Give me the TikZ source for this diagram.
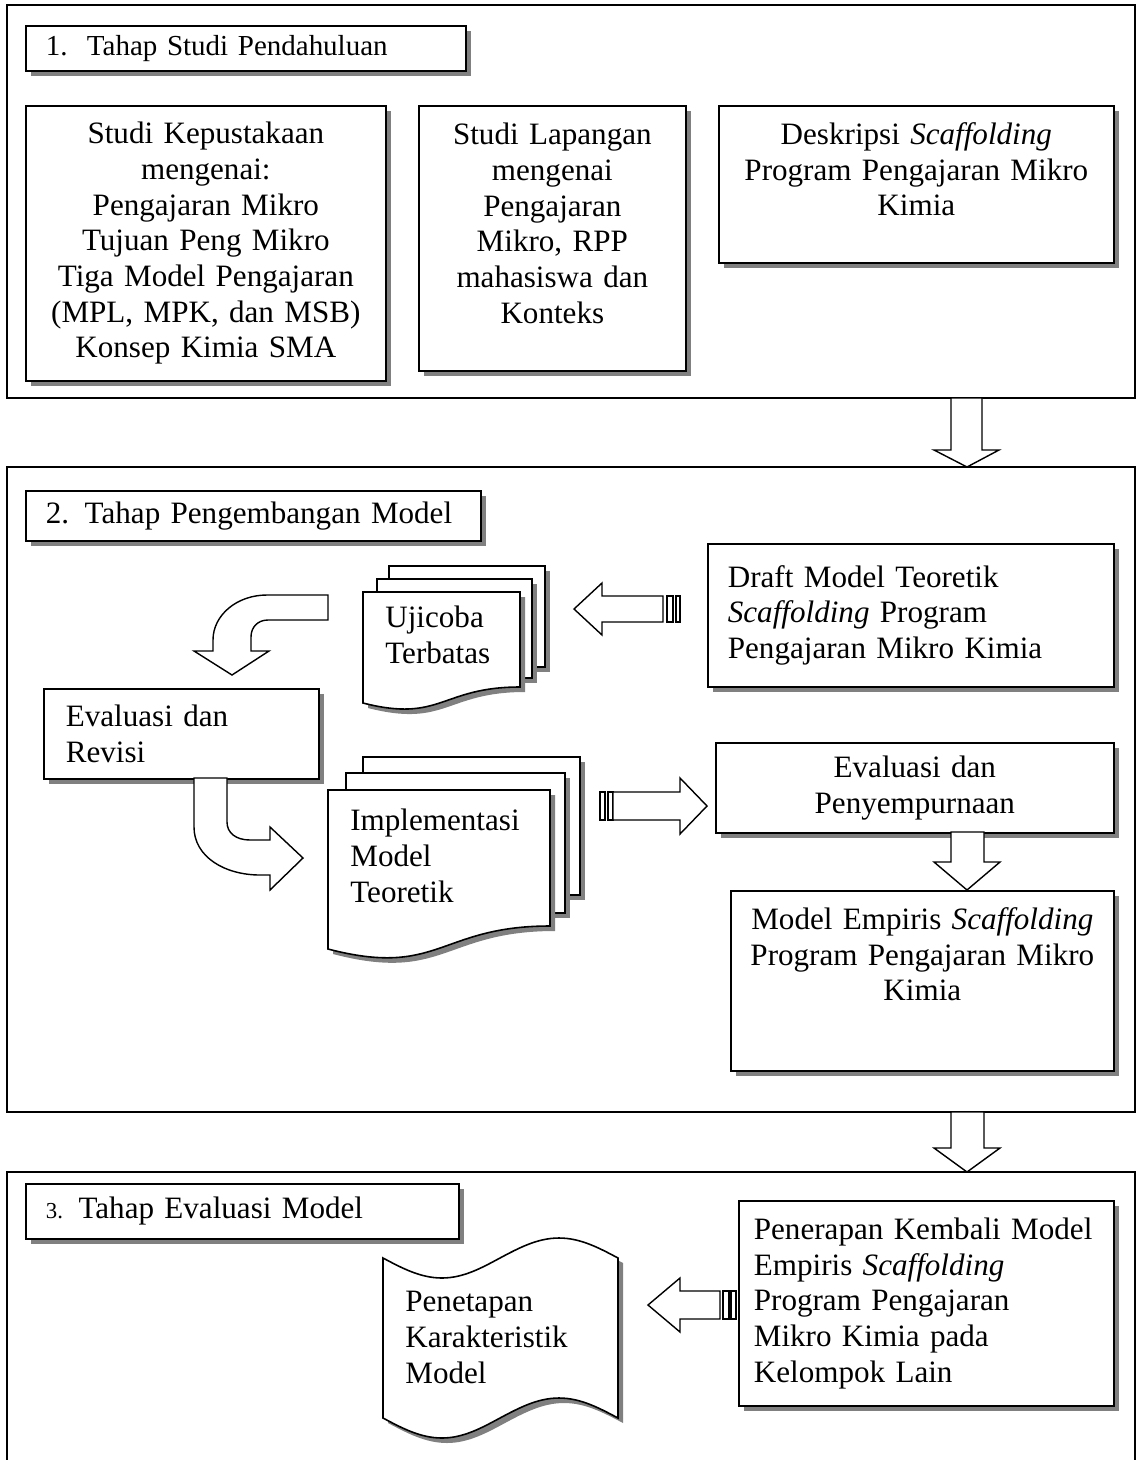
\documentclass[tikz,border=0pt]{standalone}
\usepackage{fontspec}
\setmainfont{Liberation Serif}
\usepackage{tikz}
\usetikzlibrary{positioning,shadows}

\begin{document}
\begin{tikzpicture}[
      x=0.02cm, y=-0.02cm,
      font=\fontsize{17.7}{20.3}\selectfont,
      bayang/.style={drop shadow={shadow xshift=0.1cm, shadow yshift=-0.1cm, fill=black!50, opacity=1}},
      kotak/.style={draw, fill=white, line width=1pt, bayang, align=center, anchor=north west, inner sep=2pt},
      judul/.style={kotak, align=left, inner xsep=0.4cm},
      halaman/.style={draw, fill=white, line width=0.9pt, bayang},
      teks/.style={anchor=north west, align=left, inner sep=0pt},
      panah/.style={draw, fill=white, line width=0.8pt, line join=miter},
      bingkai/.style={draw, line width=1.1pt}]
    \useasboundingbox (0,0) rectangle (1137,1460);
    \draw[bingkai] (7,5) rectangle (1135,398);
    \draw[bingkai] (7,467) rectangle (1135,1112);
    \draw[bingkai] (7,1460) -- (7,1172) -- (1135,1172) -- (1135,1460);
    % tahap 1
    \node[judul, minimum height=0.9cm, text width=8.0cm, font=\fontsize{16.5}{19}\selectfont] (tahap1) at (25,25) {1.\ \ Tahap Studi Pendahuluan};
    \node[kotak, minimum width=7.2cm, minimum height=5.5cm, text width=7.0cm] (pustaka) at (25,105)
      {Studi Kepustakaan\\ mengenai:\\ Pengajaran Mikro\\ Tujuan Peng Mikro\\ Tiga Model Pengajaran\\ (MPL, MPK, dan MSB)\\ Konsep Kimia SMA};
    \node[kotak, minimum width=5.34cm, minimum height=5.3cm, text width=5.1cm] (lapangan) at (418,105)
      {Studi Lapangan\\ mengenai\\ Pengajaran\\ Mikro, RPP\\ mahasiswa dan\\ Konteks\\[-3pt]\mbox{}};
    \node[kotak, minimum width=7.9cm, minimum height=3.14cm, text width=7.6cm] (deskripsi) at (718,105)
      {Deskripsi \textit{Scaffolding}\\ Program Pengajaran Mikro\\ Kimia\\[-3pt]\mbox{}};
    \draw[panah] (951,398) -- (951,450) -- (934,450) -- (967,467) -- (999,450) -- (982,450) -- (982,398) -- cycle;
    % tahap 2
    \node[judul, minimum height=1.0cm, text width=8.3cm] (tahap2) at (25,490) {2. Tahap Pengembangan Model};
    \node[judul, minimum height=2.86cm, text width=7.32cm] (draft) at (707,543)
      {Draft Model Teoretik\\ \textit{Scaffolding} Program\\ Pengajaran Mikro Kimia};
    \filldraw[halaman] (389,566) rectangle (545,667);
    \filldraw[halaman] (377,579) rectangle (532,678);
    \filldraw[halaman] (363,592) -- (520,592) -- (520,687) .. controls (441,687) and (441,723) .. (363,703) -- cycle;
    \node[teks] (ujicoba) at (385,606) {Ujicoba\\ Terbatas};
    \draw[panah] (663,596) -- (602,596) -- (602,583) -- (574,609) -- (602,635) -- (602,622) -- (663,622) -- cycle;
    \draw[panah] (667,596) rectangle (673,622);
    \draw[panah] (676,596) rectangle (680,622);
    \draw[panah] (328,595) -- (267,595) .. controls (237,595) and (213,615) .. (213,640) -- (213,651) -- (194,651)
      -- (232,675) -- (269,651) -- (251,651) -- (251,637) .. controls (251,627) and (258,620) .. (268,620) -- (328,620) -- cycle;
    \node[judul, minimum height=1.8cm, text width=4.62cm, inner xsep=0.44cm] (revisi) at (43,688) {Evaluasi dan\\ Revisi};
    \draw[panah] (194,778) -- (194,827) .. controls (194,857) and (225,875) .. (260,875) -- (270,875) -- (270,890)
      -- (303,858) -- (270,827) -- (270,840) -- (250,840) .. controls (236,840) and (227,833) .. (227,822) -- (227,778) -- cycle;
    \filldraw[halaman] (363,757) rectangle (580,895);
    \filldraw[halaman] (346,773) rectangle (565,913);
    \filldraw[halaman] (328,790) -- (550,790) -- (550,926) .. controls (439,926) and (439,978) .. (328,949) -- cycle;
    \node[teks] (implementasi) at (350,809) {Implementasi\\ Model\\ Teoretik};
    \draw[panah] (600,792) rectangle (605,820);
    \draw[panah] (608,792) rectangle (613,820);
    \draw[panah] (613,792) -- (680,792) -- (680,778) -- (707,806) -- (680,834) -- (680,820) -- (613,820) -- cycle;
    \node[kotak, minimum width=7.96cm, minimum height=1.8cm, text width=7.6cm] (sempurna) at (715,742)
      {Evaluasi dan\\ Penyempurnaan};
    \draw[panah] (951,832) -- (951,862) -- (934,862) -- (967,890) -- (1000,862) -- (984,862) -- (984,832) -- cycle;
    \node[kotak, minimum width=7.66cm, minimum height=3.6cm, text width=7.4cm] (empiris) at (730,890)
      {Model Empiris \textit{Scaffolding}\\ Program Pengajaran Mikro\\ Kimia\\[10pt]\mbox{}};
    \draw[panah] (951,1112) -- (951,1148) -- (934,1148) -- (967,1172) -- (1000,1148) -- (984,1148) -- (984,1112) -- cycle;
    % tahap 3
    \node[judul, minimum height=1.1cm, text width=7.86cm] (tahap3) at (25,1183) {{\fontsize{13}{15}\selectfont 3.} Tahap Evaluasi Model};
    \node[judul, minimum height=4.1cm, text width=6.9cm, inner xsep=0.3cm] (penerapan) at (738,1200)
      {Penerapan Kembali Model\\ Empiris \textit{Scaffolding}\\ Program Pengajaran\\ Mikro Kimia pada\\ Kelompok Lain};
    \draw[panah] (723,1291) rectangle (729,1319);
    \draw[panah] (731,1291) rectangle (736,1319);
    \draw[panah] (720,1291) -- (680,1291) -- (680,1278) -- (648,1305) -- (680,1332) -- (680,1319) -- (720,1319) -- cycle;
    \filldraw[halaman] (383,1258) sin (442,1278) cos (500,1258) sin (559,1238) cos (618,1258) -- (618,1418)
      sin (559,1398) cos (500,1418) sin (442,1438) cos (383,1418) -- cycle;
    \node[teks] (penetapan) at (405,1291) {Penetapan\\ Karakteristik\\ Model};
  \end{tikzpicture}
\end{document}
